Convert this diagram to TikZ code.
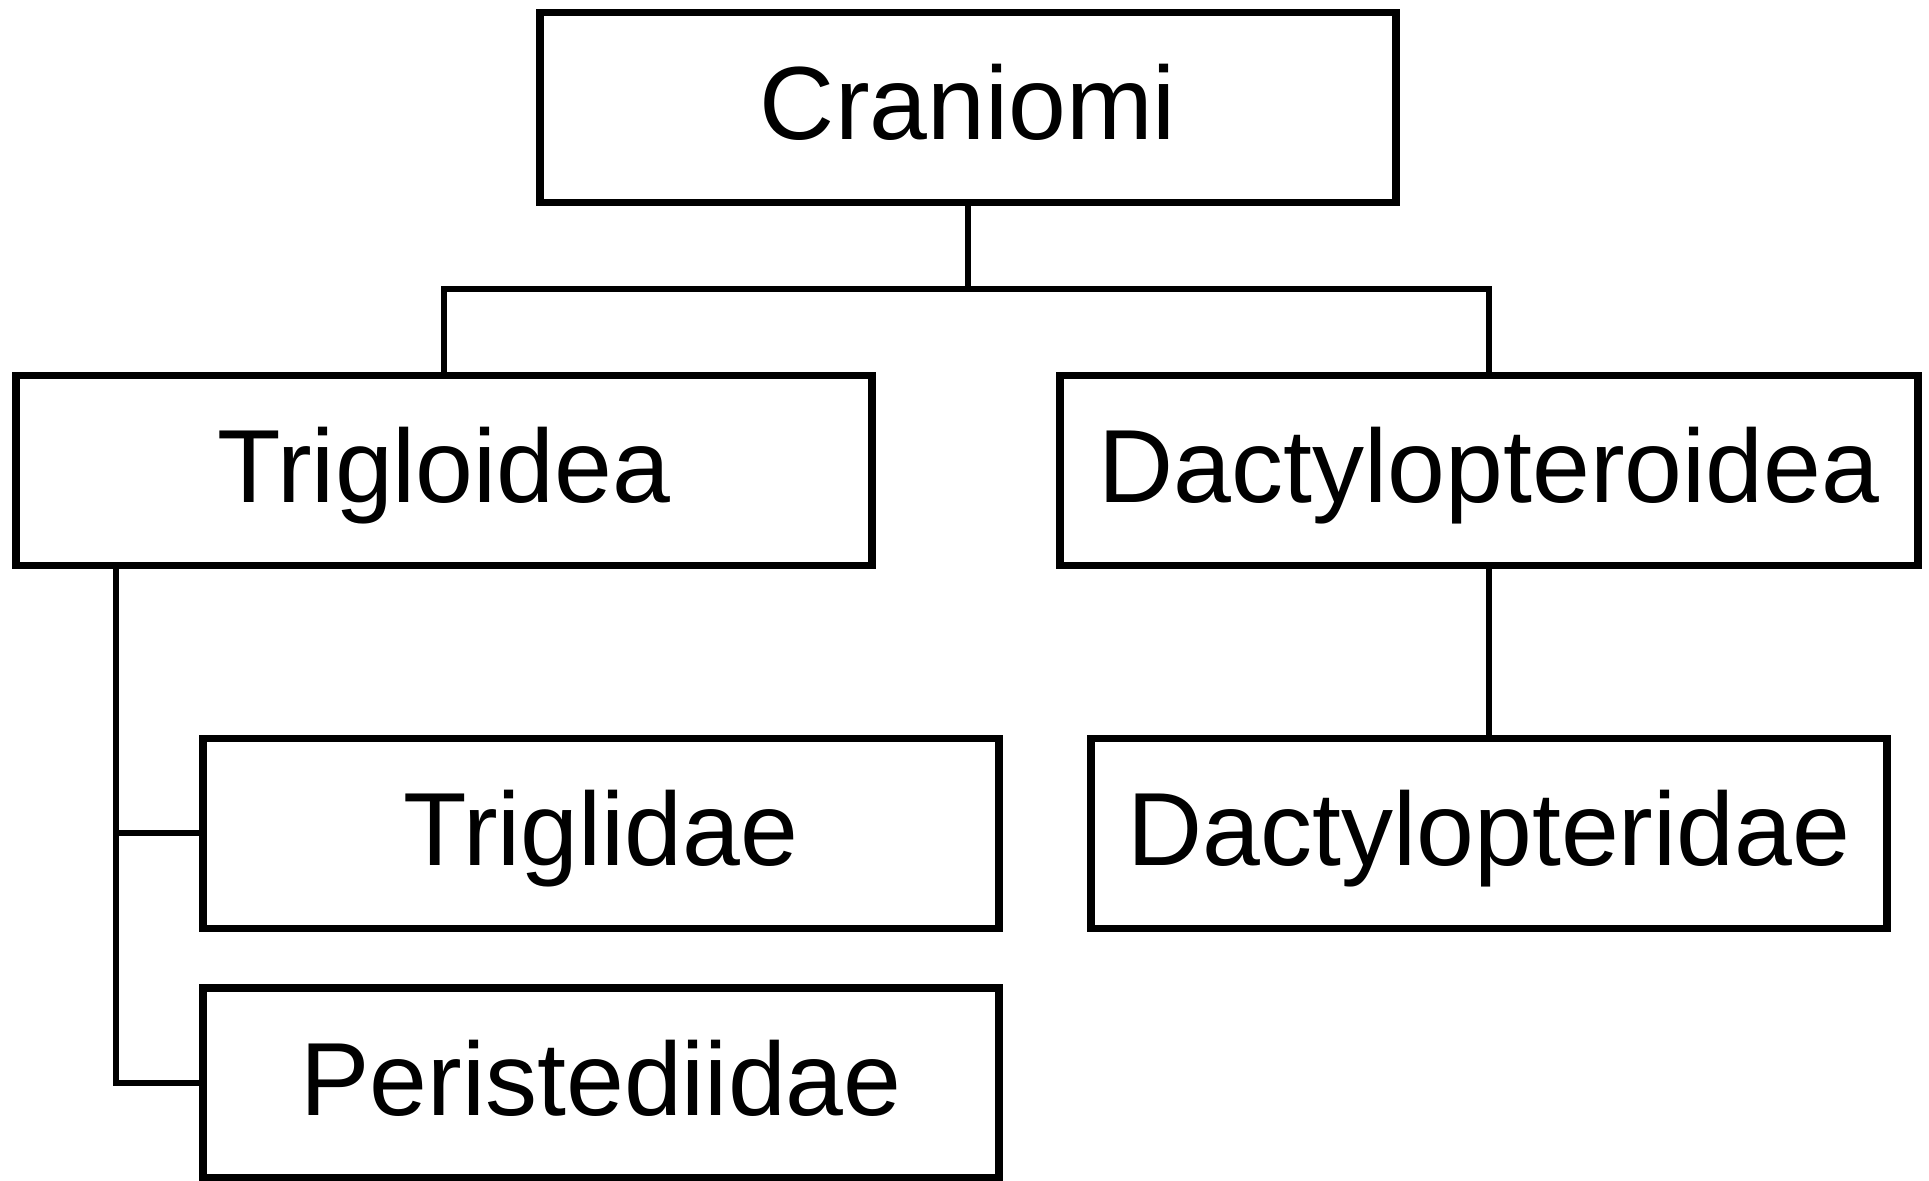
\documentclass[tikz,border=0pt]{standalone}
\usepackage{fontspec}
\setmainfont{Liberation Sans}
\begin{document}
\begin{tikzpicture}[x=0.5pt,y=-0.5pt]
\tikzstyle{every node}=[font=\fontsize{52}{60}\selectfont]
\tikzstyle{taxon}=[draw,line width=3.9pt,inner sep=0pt,minimum height=95pt,text height=36pt,text depth=4pt]
\tikzstyle{link}=[line width=3pt]
\useasboundingbox (0,0) rectangle (1929,1181);
\node[taxon,minimum width=428pt] (crani) at (968,107.5) {Craniomi};
\node[taxon,minimum width=428pt] (trig) at (444,470.5) {Trigloidea};
\node[taxon,minimum width=429pt] (dacty) at (1489,470.5) {Dactylopteroidea};
\node[taxon,minimum width=398pt] (tgl) at (601,833.5) {Triglidae};
\node[taxon,minimum width=398pt] (peri) at (601,1083) {Peristediidae};
\node[taxon,minimum width=398pt] (dpt) at (1489,833.5) {Dactylopteridae};
\coordinate (bar) at (968,289);
\coordinate (stem) at (116,566);
\draw[link](crani.south)--(bar);
\draw[link](trig.north)|-(bar)-|(dacty.north);
\draw[link](stem)|-(peri.west);
\draw[link](stem |- tgl.west)--(tgl.west);
\draw[link](dacty.south)--(dpt.north);
\end{tikzpicture}
\end{document}
